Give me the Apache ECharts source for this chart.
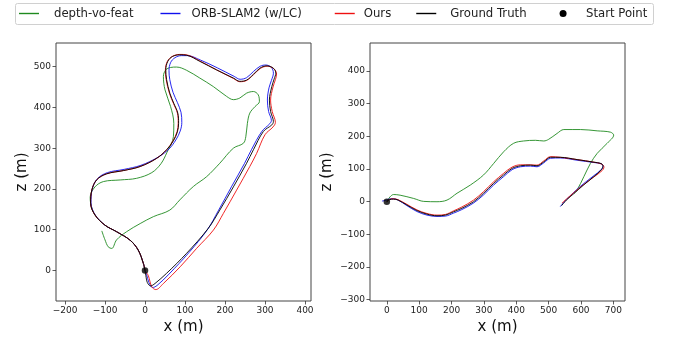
<!DOCTYPE html>
<html>
<head>
<meta charset="utf-8">
<script src="https://cdn.jsdelivr.net/npm/echarts@6/dist/echarts.min.js"></script>
<style>
html,body{margin:0;padding:0;background:#fff;}
#c{width:677px;height:341px;}
</style>
</head>
<body>
<div id="c"></div>
<script>
// ---------- DATA ----------
const seriesNames = ['depth-vo-feat', 'ORB-SLAM2 (w/LC)', 'Ours', 'Ground Truth', 'Start Point'];

// Left plot ticks
const leftXTicks = [-200, -100, 0, 100, 200, 300, 400];
const leftYTicks = [0, 100, 200, 300, 400, 500];
// Right plot ticks
const rightXTicks = [0, 100, 200, 300, 400, 500, 600, 700];
const rightYTicks = [-300, -200, -100, 0, 100, 200, 300, 400];

const startPoint = [[0, 0]];

// Left plot trajectories [x, z]
const leftGT = [[0,0],[-4,17],[-17,50],[-37,74],[-71,95],[-100,111],[-125,136],[-136,165],[-133,197],[-121,222],[-96,237],[-54,245],[-12,255],[29,275],[54,296],[71,318],[81,340],[84,361],[82,386],[72,410],[62,435],[54,468],[52,492],[57,513],[69,525],[87,529],[104,528],[137,513],[179,492],[221,472],[237,464],[254,467],[271,481],[287,496],[304,502],[321,496],[327,484],[323,470],[317,451],[311,418],[314,390],[321,365],[317,357],[296,341],[271,296],[254,263],[221,205],[187,148],[158,103],[104,42],[54,-7],[25,-32],[14,-38],[6,-30],[2,-12],[0,0]];
const leftOurs = [[0,0],[-4,17],[-17,50],[-37,74],[-71,95],[-100,111],[-125,136],[-136,165],[-133,197],[-121,222],[-96,237],[-54,245],[-12,255],[29,275],[54,296],[70,318],[80,340],[83,361],[81,386],[71,410],[61,435],[53,468],[51,492],[56,513],[68,525],[87,530],[104,529],[137,514],[179,492],[221,471],[237,463],[254,466],[271,480],[289,496],[306,501],[322,495],[329,482],[326,468],[320,450],[314,418],[318,390],[326,363],[320,352],[300,333],[279,287],[262,255],[229,197],[196,140],[171,99],[129,54],[88,9],[46,-32],[27,-47],[17,-40],[8,-12],[2,-4]];
const leftORB = [[0,0],[-4,17],[-17,50],[-37,74],[-71,95],[-100,111],[-125,137],[-135,166],[-132,199],[-119,225],[-94,240],[-52,248],[-10,258],[33,278],[60,298],[77,320],[88,342],[92,363],[90,388],[81,412],[70,437],[62,468],[60,490],[64,510],[75,522],[91,527],[106,527],[139,516],[181,497],[223,476],[238,469],[254,473],[271,488],[288,501],[302,504],[316,498],[321,484],[316,466],[310,448],[306,418],[309,390],[316,368],[312,360],[292,341],[266,296],[249,263],[216,205],[183,146],[156,100],[110,44],[60,-9],[30,-37],[19,-42],[10,-30],[4,-10],[1,-2]];
const leftDVF = [[0,0],[-4,17],[-17,50],[-37,74],[-71,95],[-100,111],[-125,136],[-136,165],[-137,180],[-125,205],[-104,218],[-62,222],[-21,226],[17,240],[40,262],[55,290],[71,328],[72,361],[64,402],[50,443],[46,476],[52,492],[64,498],[79,499],[104,491],[137,472],[171,451],[204,427],[221,419],[237,423],[254,435],[271,439],[283,431],[286,414],[275,402],[262,386],[256,361],[252,328],[246,312],[221,300],[187,263],[154,230],[121,206],[87,173],[62,148],[21,132],[-12,115],[-46,95],[-71,75],[-83,54],[-92,58],[-100,75],[-108,97]];

// Right plot trajectories [x, z]
const rightGT = [[0,0],[8,6],[20,8],[35,5],[62,-10],[93,-27],[124,-38],[155,-43],[181,-41],[206,-31],[232,-20],[268,0],[299,26],[330,56],[361,82],[387,102],[413,110],[444,112],[464,110],[485,122],[506,136],[536,136],[588,129],[640,121],[662,117],[668,110],[663,98],[640,77],[609,52],[578,25],[555,5],[540,-12]];
const rightOurs = [[0,0],[8,7],[20,9],[35,6],[62,-8],[93,-25],[124,-36],[155,-41],[181,-39],[206,-28],[232,-16],[268,5],[299,31],[330,61],[361,87],[387,106],[413,113],[444,113],[464,112],[485,125],[506,138],[536,136],[588,129],[640,121],[664,115],[671,106],[665,95],[640,76],[609,53],[578,28],[555,8],[541,-4]];
const rightORB = [[-15,2],[0,5],[10,9],[20,9],[35,5],[62,-12],[93,-30],[124,-41],[155,-45],[181,-44],[206,-35],[232,-24],[268,-4],[299,21],[330,51],[361,77],[387,98],[413,107],[444,109],[464,107],[485,119],[506,133],[536,134],[588,127],[640,120],[663,116],[668,108],[660,96],[640,80],[609,56],[578,29],[555,7],[536,-15]];
const rightDVF = [[0,0],[10,15],[21,22],[41,20],[83,10],[114,1],[155,0],[186,5],[217,26],[258,51],[299,82],[330,117],[361,153],[392,179],[423,186],[459,188],[485,186],[500,191],[526,209],[547,221],[599,221],[650,217],[691,213],[701,204],[681,179],[650,148],[629,117],[609,77],[588,36],[578,25]];

// ---------- CHART ----------
const FONT = 'DejaVu Sans';
const colors = { 'depth-vo-feat': '#1f8a1f', 'ORB-SLAM2 (w/LC)': '#1010ee', 'Ours': '#ee1010', 'Ground Truth': '#000000', 'Start Point': '#000000' };
const fmt = v => String(v).replace('-', '\u2212');

function xAxisOf(gi, min, max, ticks) {
  return {
    type: 'value', gridIndex: gi, min: min, max: max,
    name: 'x (m)', nameLocation: 'middle', nameGap: 17,
    nameTextStyle: { fontSize: 15, fontFamily: FONT, color: '#111' },
    axisLine: { show: false, onZero: false },
    axisTick: { show: true, length: 3.5, customValues: ticks, lineStyle: { color: '#333', width: 0.8 } },
    axisLabel: { customValues: ticks, formatter: fmt, fontSize: 9, fontFamily: FONT, color: '#222', margin: 5 },
    splitLine: { show: false }
  };
}
function yAxisOf(gi, min, max, ticks, gap) {
  return {
    type: 'value', gridIndex: gi, min: min, max: max,
    name: 'z (m)', nameLocation: 'middle', nameGap: gap,
    nameTextStyle: { fontSize: 15, fontFamily: FONT, color: '#111' },
    axisLine: { show: false, onZero: false },
    axisTick: { show: true, length: 3.5, customValues: ticks, lineStyle: { color: '#333', width: 0.8 } },
    axisLabel: { customValues: ticks, formatter: fmt, fontSize: 9, fontFamily: FONT, color: '#222', margin: 5 },
    splitLine: { show: false }
  };
}
function line(name, data, idx) {
  return {
    type: 'line', name: name, data: data, xAxisIndex: idx, yAxisIndex: idx,
    showSymbol: false, symbol: 'none', smooth: 0.35, animation: false,
    lineStyle: { color: colors[name], width: 0.9 }, itemStyle: { color: colors[name] }, z: 2
  };
}
function start(idx) {
  return {
    type: 'scatter', name: 'Start Point', data: startPoint, xAxisIndex: idx, yAxisIndex: idx,
    symbol: 'circle', symbolSize: 6.5, itemStyle: { color: '#000' }, z: 5, animation: false
  };
}
// legend items: [name, icon, left text padding, right padding]
const legendLayout = [
  ['depth-vo-feat', 'path://M0,0H20V1.4H0Z', 10, 27],
  ['ORB-SLAM2 (w/LC)', 'path://M0,0H20V1.4H0Z', 6, 33],
  ['Ours', 'path://M0,0H20V1.4H0Z', 4, 25],
  ['Ground Truth', 'path://M0,0H20V1.4H0Z', 9, 33],
  ['Start Point', 'circle', 8, 0]
];

const chart = echarts.init(document.getElementById('c'), null, { renderer: 'canvas' });
chart.setOption({
  backgroundColor: '#fff',
  animation: false,
  graphic: [{
    type: 'rect', shape: { x: 15.5, y: 3.5, width: 638, height: 21, r: 2 },
    style: { fill: '#fff', stroke: '#d0d0d0', lineWidth: 1 }, z: -1, silent: true
  }],
  legend: {
    left: 19, top: 5, padding: 0, itemGap: 0, itemWidth: 20, itemHeight: 7, selectedMode: false,
    data: legendLayout.map(([n, icon, pl, pr]) => ({
      name: n, icon: icon,
      itemStyle: { color: colors[n], borderWidth: 0, opacity: 1 },
      textStyle: { padding: [0, pr, 0, pl] }
    })),
    textStyle: { fontSize: 11.7, fontFamily: FONT, color: '#222', lineHeight: 17 }
  },
  grid: [
    { left: 56, top: 43, width: 255, height: 258, show: true, borderColor: '#444', borderWidth: 1, backgroundColor: 'transparent' },
    { left: 370, top: 43, width: 255, height: 258, show: true, borderColor: '#444', borderWidth: 1, backgroundColor: 'transparent' }
  ],
  xAxis: [xAxisOf(0, -222.5, 415, leftXTicks), xAxisOf(1, -52, 736, rightXTicks)],
  yAxis: [yAxisOf(0, -75, 558, leftYTicks, 26), yAxisOf(1, -304, 486, rightYTicks, 35)],
  series: [
    line('depth-vo-feat', leftDVF, 0),
    line('ORB-SLAM2 (w/LC)', leftORB, 0),
    line('Ours', leftOurs, 0),
    line('Ground Truth', leftGT, 0),
    start(0),
    line('depth-vo-feat', rightDVF, 1),
    line('ORB-SLAM2 (w/LC)', rightORB, 1),
    line('Ours', rightOurs, 1),
    line('Ground Truth', rightGT, 1),
    start(1)
  ]
});
</script>
</body>
</html>
